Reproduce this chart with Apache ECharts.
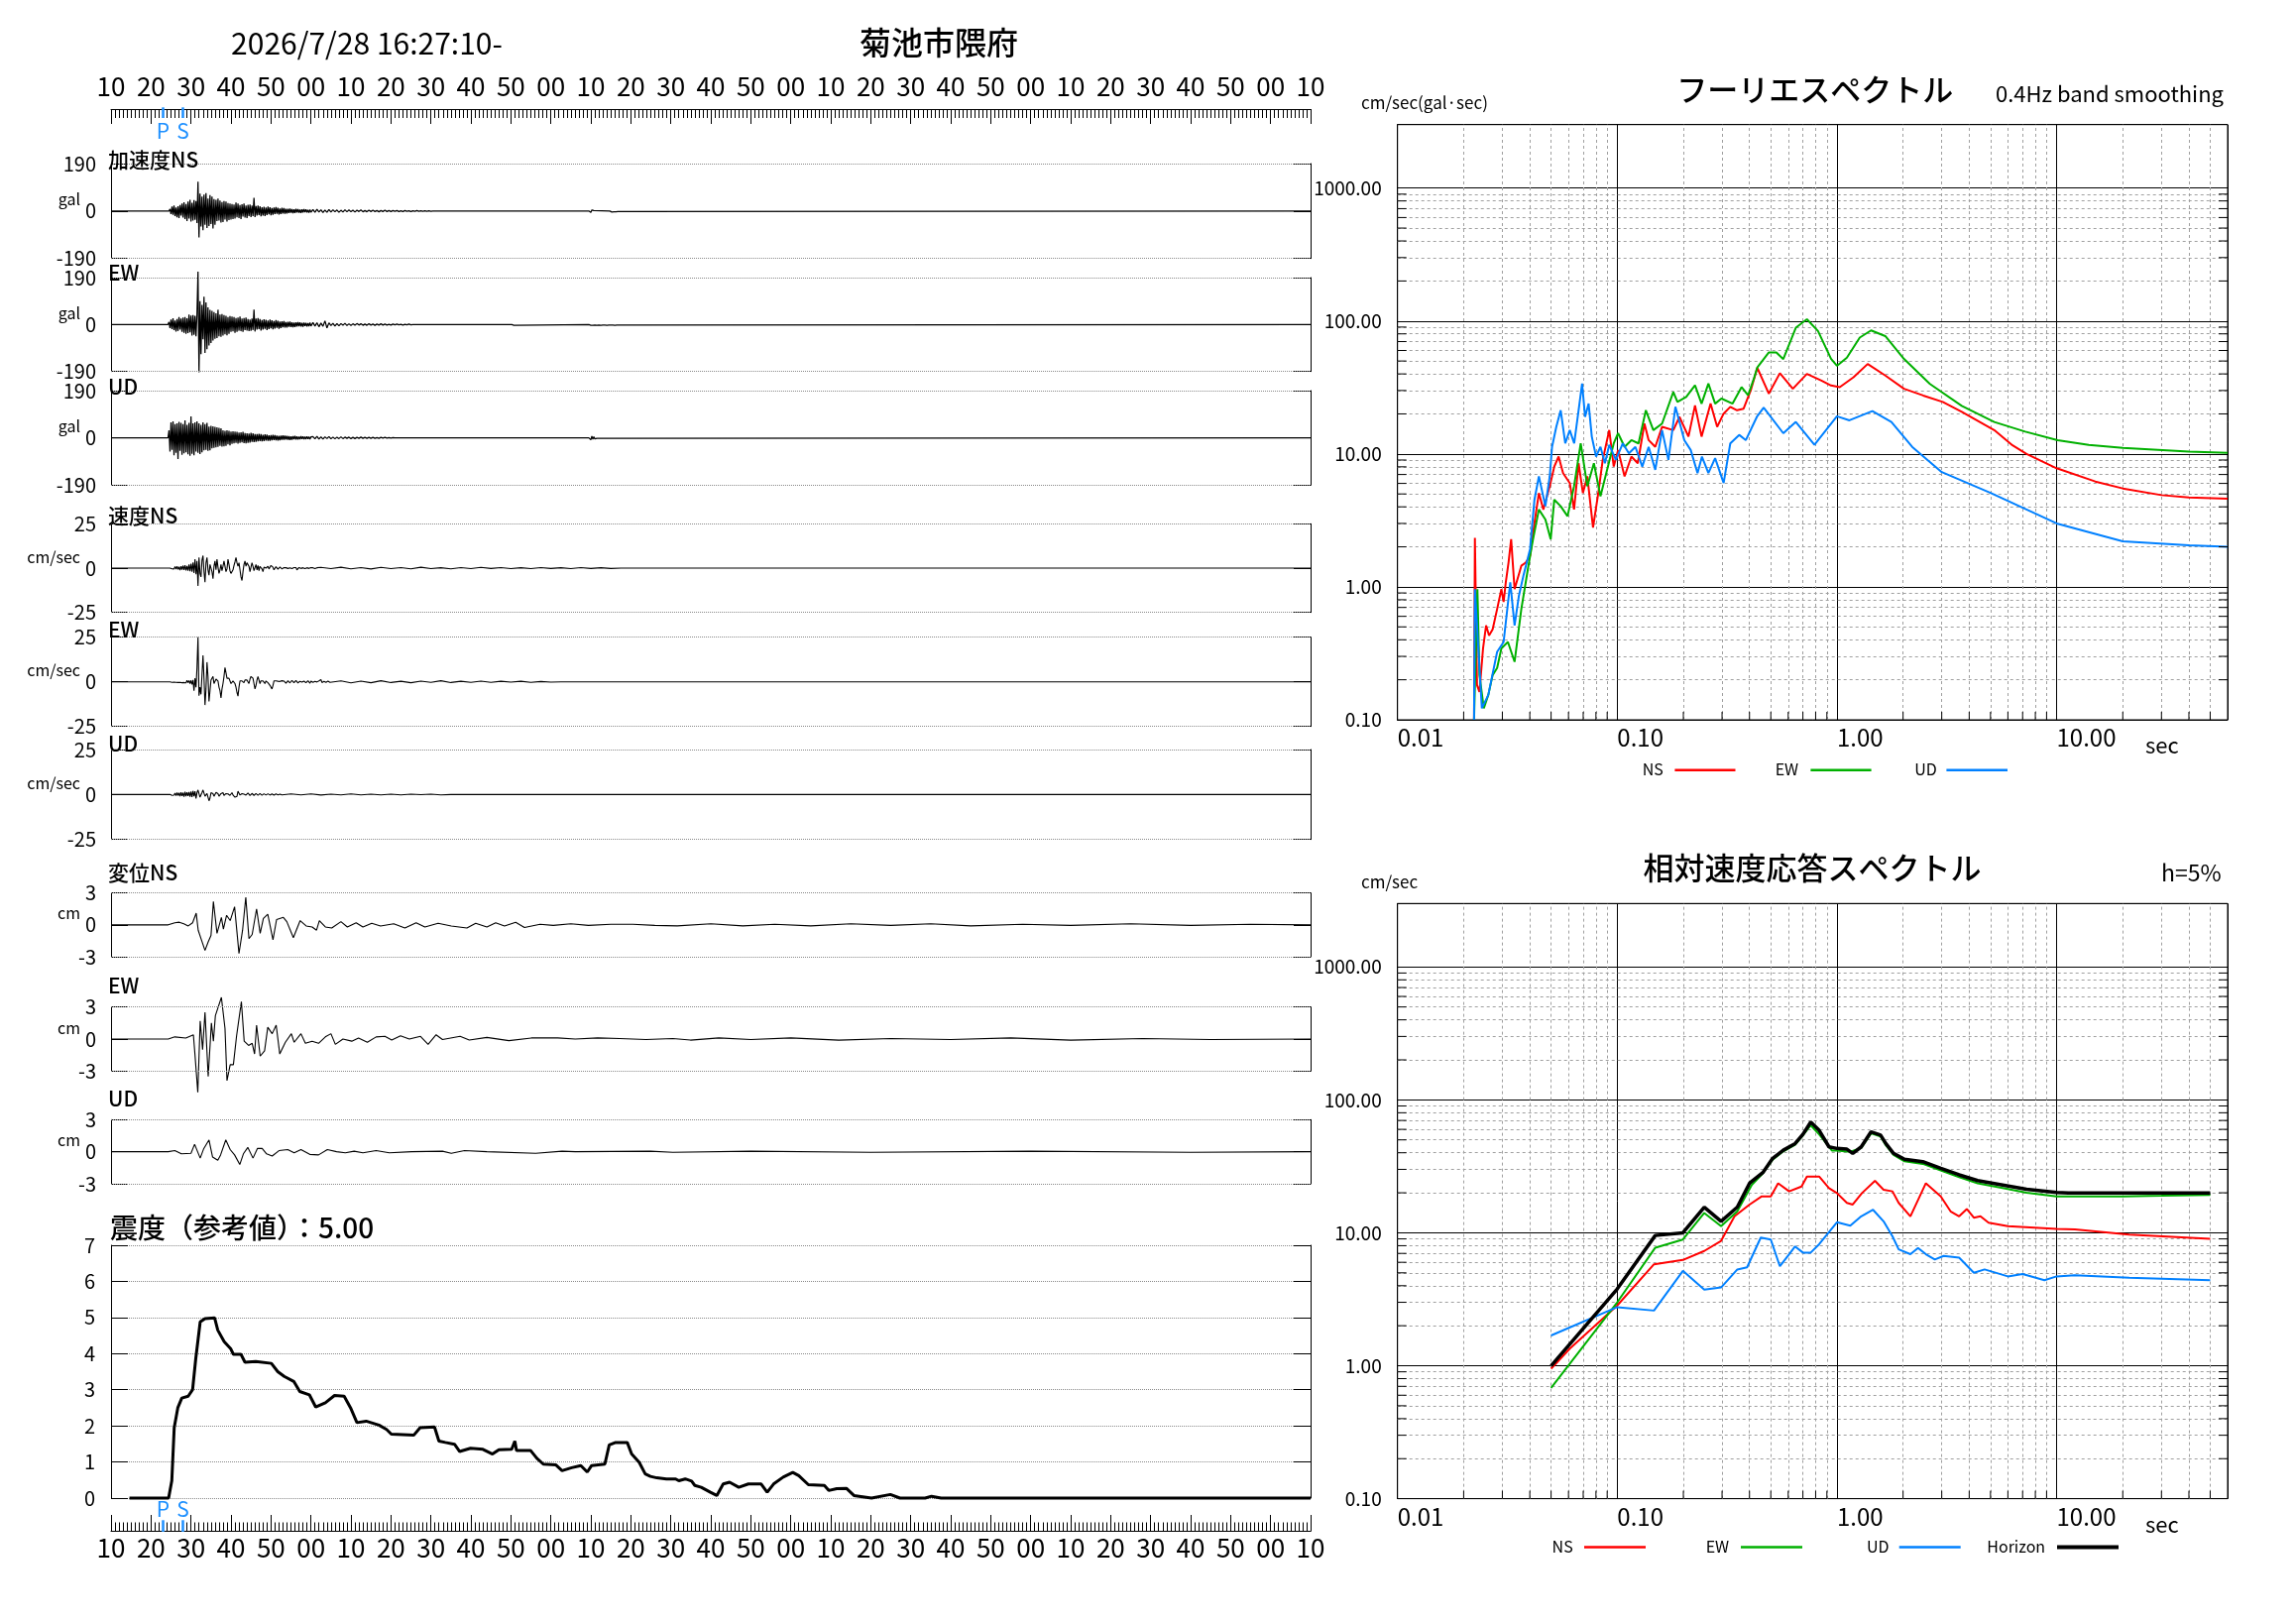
<!DOCTYPE html>
<html lang="ja">
<head>
<meta charset="utf-8">
<title>菊池市隈府</title>
<script src="https://cdn.jsdelivr.net/npm/echarts@6.0.0/dist/echarts.min.js"></script>
<style>
html,body{margin:0;padding:0;background:#ffffff;}
#chart{width:2316px;height:1637px;}
</style>
</head>
<body>
<div id="chart"></div>
<script>
// ======================= DATA =======================
// time axis: seconds after 16:27:10, 0..300
const timeTickLabels = ['10','20','30','40','50','00','10','20','30','40','50','00','10','20','30','40','50','00','10','20','30','40','50','00','10','20','30','40','50','00','10'];
const pTime = 13;
const sTime = 18;

// acceleration (gal) : segments [t0, dt, values]
const accNS_a = [8,-12,18,-15,22,-20,14,-25,19,-28,24,-18,30,
 -26,35,-32,28,-40,38,-30,45,-42,33,-38,44,-35,40,-48,
 117,-106,
 70,-62,58,-77,66,-55,72,-68,50,-60,64,-52,58,-70,48,-55,
 45,-40,50,-38,42,-46,36,-44,40,-34,38,-42,32,-36,30,-34,
 28,-32,26,-30,34,-25,30,-28,24,-32,27,-22,30,-26,22,-28,25,-20,26,-24,22,-20,53,-24,
 20,-18,22,-16,19,-21,15,-18,17,-20,14,-16,18,-13,15,-17,12,-15,14,-12,16,-11,13,-14,10,-12,13,-10,12,-11,9,-10,
 9,-8,10,-7,8,-9,7,-8,9,-6,8,-7,6,-8,7,-6,8,-5,7,-6,5,-7,6,-5];
const accNS_b = [6,-5,7,-4,5,-6,4,-5,6,-4,5,-3,4,-5,3,-4,5,-3,4,-3,3,-4,3,-2,4,-3,2,-3,3,-2,3,-2,2,-3,2,-2,3,-2,2,-2,2,-1,2,-2,1,-2,2,-1,1,-2,1,-1,2,-1,1,-1,1,-1,1,-1];
const accNS_c = [5,-6,4,-3,2];
const accNS_d = [3,-4,3,-3,4,-3,2,-2];

const accEW_a = [10,-14,20,-18,25,-22,16,-28,22,-26,30,-20,24,-30,
 28,-34,30,-38,25,-35,40,-32,36,-45,38,-42,35,-48,44,
 214,-193,
 95,-120,80,-60,113,-115,90,-100,70,-85,60,-75,55,-65,50,-58,
 45,-55,60,-48,40,-50,42,-45,38,-40,35,-44,30,-38,34,-30,
 32,-28,30,-34,26,-30,28,-25,32,-27,24,-30,26,-22,28,-24,22,-26,20,-25,24,-22,60,-28,
 24,-20,26,-18,22,-24,18,-20,21,-17,19,-22,16,-18,20,-15,17,-19,14,-16,18,-13,15,-17,12,-14,13,-11,14,-12,10,-12,
 11,-9,12,-10,9,-11,8,-10,9,-8,10,-7,9,-8,7,-9,8,-6,7,-8,6,-7,8,-6];
const accEW_b = [8,-6,7,-9,6,-7,15,-14,7,-4,5,-6,4,-5,4,-3,5,-4,3,-4,3,-3,4,-2,3,-3,2,-3,3,-2,2,-3,2,-2,3,-2,2,-2,1,-2,2,-1,2,-1,1,-2,1,-1,2,-1];
const accEW_c = [3,-3];
const accEW_d = [3,-3,2,-3,3,-2,2,-3,3,-2,3,-3,2,-2,3,-2,2,-3,2,-2,3,-2,2,-2,2,-3,2,-2,3,-2];

const accUD_a = [30,-55,62,-48,66,-70,55,-60,58,-85,64,-52,60,-68,
 55,-62,70,-58,52,-66,60,-72,86,-64,58,-70,62,-55,66,
 -60,58,-65,52,-58,62,-50,55,-48,60,-52,45,-50,48,-42,46,-40,44,
 -38,42,-36,40,-32,38,-35,30,-34,28,-32,30,-26,28,-30,25,
 -24,26,-22,25,-20,24,-23,21,-20,22,-18,24,-21,19,-22,18,-20,17,-19,20,-16,18,-17,15,
 -16,15,-14,16,-13,15,-14,12,-13,14,-11,13,-12,10,-12,11,-10,12,-9,11,-10,9,-11,8,-10,9,-8,10,-8,9,-7,8,
 -8,7,-9,6,-8,7,-6,8,-7,6,-7,5,-6,7,-5,6,-6,5,-5,6,-4,5,-5,4];
const accUD_b = [5,-4,6,-5,4,-5,4,-3,5,-4,3,-4,3,-3,4,-3,3,-2,3,-3,2,-3,2,-2,3,-2,2,-2,2,-2,2,-2,1,-2,2,-1,2,-1,1,-1,1];
const accUD_c = [4,-8,7,-6,5,-4,3,-2];

// velocity (cm/sec)
const velNS_a = [0.3,-0.4,0.6,-0.5,0.8,-0.6,1.0,-0.8,0.7,-1.2,1.0,-0.9,1.4,-1.1,1.6,-1.3,1.2,-1.5,2.0,-1.8,
 2.5,-2.0,3.2,-2.8,5.0,-3.5,4.0,-10.0,
 6.0,-3.0,-5.0,4.5,7.0,-2.0,-8.0,3.0,6.0,-1.0,-4.0,2.0,
 2.5,-2.0,-6.0,1.0,4.0,-1.0,5.0,0.5,-3.0,-1.0,2.0,-1.5,
 1.0,4.0,1.0,-2.0,-0.5,5.0,2.0,-1.5,-3.0,-4.0,-1.0,1.5,
 3.5,6.0,3.0,1.0,3.0,-1.0,-5.0,-7.0,-2.0,2.0,4.0,1.0,
 3.0,4.0,1.0,-2.0,0.5,3.0,1.0,-1.5,-0.5,2.0,-1.0,1.5,
 -1.5,1.0,2.0,-0.5,-2.0,0.5,1.5,0.0,-1.0,1.0,-0.5,0.5,
 1.5,2.0,0.5,-1.0,-0.5,0.8,0.2,-0.6,0.4,0.6,-0.3,-0.5,
 0.5,0.3,-0.4,0.2,0.6,-0.2,-0.5,0.1,0.4,-0.3,0.0,0.3,
 1.0,0.3,-1.0,-0.4,0.3,0.5,-0.2,-0.3,0.2,0.4,-0.3,-0.5,
 0.2,0.4,-0.2,-0.5,0.3,0.9,0.2,-0.5,-0.3,0.3,0.2,-0.2];
const velNS_tail = [0.4,-0.3,0.5,-0.4,0.3,-0.5,0.4,-0.3,0.3,-0.4,0.5,-0.3,0.2,-0.4,0.3,-0.3,0.4,-0.2,0.3,-0.3,0.2,-0.3,0.3,-0.2,0.2,-0.3,0.3,-0.2,0.2,-0.2];

const velEW_a = [0.2,-0.3,0.3,-0.2,0.4,-0.3,0.3,-0.4,0.5,-0.3,0.4,-0.5,0.6,-0.4,0.5,-0.6,0.8,-0.5,0.7,-1.0,
 0.8,-1.5,1.0,-5.0,2.0,-3.0,8.0,25.0,
 -7.8,-3.0,-7.0,4.0,14.8,2.0,-13.0,-4.0,11.0,3.0,-11.0,-5.0,
 1.0,2.0,3.0,-1.0,-2.0,1.5,2.5,0.5,-3.0,-5.0,-9.0,-4.0,
 -1.0,3.0,8.0,5.0,2.0,1.0,2.0,1.0,-1.0,-0.5,0.5,0.5,
 -1.0,-3.0,-6.0,-8.0,-3.0,0.5,1.0,0.5,0.0,-0.5,1.0,0.5,
 1.0,0.0,-1.0,1.5,3.0,4.0,2.0,-1.0,-4.0,-2.0,1.0,3.0,
 1.0,-1.0,0.5,1.5,0.5,-0.5,-1.0,0.5,1.0,-0.5,-1.5,-2.0,
 -3.0,-4.0,-2.0,0.5,1.0,0.5,-0.5,0.3,1.0,0.2,-0.5,0.6,
 1.0,0.4,-0.5,-0.8,0.3,0.6,-0.2,-0.6,0.5,0.8,-0.3,-0.5,
 0.4,0.7,-0.4,-0.6,0.5,0.3,-0.6,-0.2,0.6,0.4,-0.3,-0.5,
 0.3,0.6,-0.2,-0.8,0.4,0.9,-0.3,-0.6,0.2,0.5,-0.1,-0.4,
 0.5,0.8,1.2,-0.4,-1.2,0.3,0.6,-0.3,-0.4,0.4,0.2,-0.3];
const velEW_tail = [0.5,-0.6,0.4,-0.5,0.6,-0.4,0.3,-0.5,0.4,-0.3,0.6,-0.4,0.3,-0.3,0.4,-0.3,0.3,-0.2,0.3,-0.3,0.2,-0.2];

const velUD_a = [0.3,-0.5,0.6,-0.4,0.8,-0.7,1.0,-0.6,0.9,-1.0,1.2,-0.8,1.0,-1.3,1.5,-1.0,1.2,-0.8,1.4,-1.2,
 1.6,-1.4,2.0,-1.0,1.8,-2.2,1.0,2.5,
 3.3,-1.5,-2.5,1.0,2.5,1.5,-1.0,-2.0,0.5,1.5,-3.5,-2.0,
 1.0,2.0,0.5,-1.0,-1.5,1.2,2.0,0.5,-1.0,-1.8,0.5,1.5,
 1.0,-0.5,-1.2,0.5,1.0,0.3,-0.8,-0.5,0.6,1.0,-0.3,-1.0,
 -1.5,-2.6,-1.0,1.8,1.0,-0.3,-0.8,0.5,1.0,0.2,-0.6,-0.3,
 0.5,0.8,-0.2,-0.6,0.3,0.6,-0.4,-0.5,0.3,0.5,-0.2,-0.4,
 0.3,0.5,-0.3,-0.4,0.2,0.4,-0.3,-0.3,0.2,0.4,-0.2,-0.3,
 0.2,0.3,-0.2,-0.3,0.2,0.3,-0.2,-0.2,0.1,0.2,-0.1,-0.2];
const velUD_tail = [0.3,-0.2,0.3,-0.3,0.2,-0.2,0.3,-0.2,0.2,-0.2,0.2,-0.2,0.2,-0.1,0.2,-0.2];

// displacement (cm) : [t, value]
const dispNS = [[14.3,0],[15.95,0.2],[17.06,0.25],[18.2,0.1],[19.3,-0.1],[20.4,0.2],[21.3,1.1],[21.8,-0.5],[22.6,-1.4],[23.5,-2.4],[24.3,-1.6],[25.0,-1.0],[25.6,2.2],[26.5,-0.8],[27.6,0.7],[28.1,-0.4],[28.9,0.9],[29.8,0.4],[30.9,1.7],[32.0,-2.7],[32.9,-0.5],[33.7,2.6],[34.5,-1.3],[35.3,-0.9],[36.4,1.5],[37.3,-0.8],[38.1,0.6],[39.2,1.0],[40.5,-1.4],[41.4,0.5],[43.1,0.7],[43.96,0.3],[45.6,-1.2],[47.3,0.4],[48.8,-0.1],[50.3,-0.2],[51.4,-0.5],[52.1,0.4],[53.6,-0.2],[55.2,-0.3],[57.5,0.3],[59.1,-0.2],[61.3,0.2],[63.0,-0.2],[65.2,0.15],[67.4,-0.1],[70.7,0.1],[73.5,-0.3],[76.3,0.2],[78.5,-0.2],[81.8,0.15],[85.1,-0.1],[89.0,-0.3],[91.2,0.15],[94.0,-0.2],[96.2,0.2],[98.4,-0.1],[101.2,0.25],[103.4,-0.25],[107.3,0.05],[110.6,-0.05],[115.0,0.1],[119.4,-0.05],[125.0,0.05],[130.5,0.05],[136.0,-0.05],[141.6,-0.1],[150,0.1],[158,-0.1],[166,0.05],[175,-0.1],[185,0.1],[195,-0.05],[205,0.1],[215,-0.1],[228,0.05],[240,-0.05],[255,0.1],[270,-0.05],[285,0.05]];
const dispEW = [[14.3,0],[15.95,0.2],[18.7,0.1],[20.6,0.4],[21.0,-1.5],[21.7,-5.0],[22.3,1.7],[22.9,-1.0],[23.5,2.5],[24.3,-3.5],[25.1,1.5],[25.6,-0.2],[26.1,2.2],[27.6,3.9],[28.5,1.0],[29.0,-3.9],[29.8,-2.4],[30.6,-2.4],[31.4,0.3],[32.6,3.5],[33.3,-0.2],[34.4,-0.6],[35.3,-0.4],[35.9,-1.4],[36.4,1.3],[37.3,-1.6],[38.4,-1.1],[39.2,1.1],[40.3,0.5],[41.3,1.3],[42.2,-1.4],[43.6,-0.3],[45.1,0.5],[45.8,-0.3],[47.5,0.5],[48.6,-0.4],[50.3,-0.2],[51.9,-0.4],[53.6,0.2],[55.0,0.5],[56.1,-0.5],[58.0,0],[60.2,-0.2],[61.9,0.1],[64.1,-0.3],[66.3,0.2],[68.5,0.25],[70.2,-0.1],[72.4,0.3],[74.6,0],[77.4,0.25],[79.3,-0.5],[81.3,0.4],[82.9,-0.05],[87.3,0.25],[89.6,-0.1],[94.0,0.15],[99.5,-0.15],[105.1,0.1],[111.7,0.1],[116.1,0],[121.7,0.1],[127.2,0.05],[133.8,-0.05],[140.5,0.05],[144.9,-0.1],[152,0.1],[160,-0.05],[170,0.1],[182,-0.1],[195,0.05],[210,-0.05],[225,0.1],[240,-0.1],[258,0.05],[275,-0.05]];
const dispUD = [[14.3,0],[15.95,0.1],[17.6,-0.2],[20.0,-0.15],[20.9,0.7],[22.3,-0.6],[23.2,0.3],[24.5,1.1],[25.4,-0.5],[26.7,-0.8],[27.4,-0.3],[28.7,1.1],[29.8,0.2],[30.9,-0.3],[32.2,-1.2],[33.1,-0.2],[34.2,0.4],[35.5,-0.6],[36.6,0.3],[37.8,0.3],[38.9,-0.2],[40.3,-0.4],[42.0,0.1],[44.2,0.2],[45.8,-0.1],[47.5,0.2],[49.7,-0.25],[51.9,-0.3],[54.1,0.2],[56.4,0],[58.6,-0.1],[60.8,0.05],[63.0,-0.1],[66.3,0.1],[69.6,-0.1],[75.2,0],[82.9,0.05],[85.1,-0.15],[88.4,0.1],[94.0,0],[106.2,-0.15],[112.8,0.05],[116.1,0],[134.9,0.05],[140.5,-0.05],[160,0.05],[190,-0.05],[230,0.05],[270,-0.05]];

// seismic intensity (reference value): [t, intensity]
const intensity = [[4.6,0],[14.4,0],[15.2,0.48],[15.8,1.95],[16.7,2.5],[17.7,2.77],[19.3,2.82],[20.4,3.0],[21.2,3.87],[22.3,4.88],[23.5,4.97],[25.9,4.99],[26.7,4.65],[28.3,4.33],[29.9,4.14],[30.6,3.98],[32.5,3.98],[33.5,3.76],[36.2,3.78],[40.1,3.73],[41.7,3.5],[43.3,3.37],[45.7,3.23],[47.2,2.95],[49.6,2.86],[51.2,2.52],[53.6,2.64],[55.9,2.84],[58.3,2.82],[59.9,2.5],[61.5,2.09],[63.8,2.13],[67.0,2.02],[68.9,1.9],[70.1,1.77],[75.7,1.74],[77.3,1.95],[80.9,1.97],[82.0,1.58],[83.6,1.54],[85.9,1.49],[87.2,1.29],[89.9,1.38],[93.0,1.35],[95.4,1.22],[97.0,1.34],[100.2,1.35],[101.0,1.58],[101.4,1.32],[104.9,1.32],[106.5,1.1],[108.1,0.94],[111.2,0.92],[112.8,0.76],[115.2,0.84],[117.5,0.9],[119.1,0.72],[120.2,0.9],[123.5,0.94],[124.6,1.47],[126.2,1.54],[129.1,1.54],[130.2,1.22],[132.1,0.99],[133.6,0.67],[134.9,0.6],[136.5,0.56],[138.9,0.53],[141.2,0.53],[142.0,0.48],[143.6,0.53],[145.2,0.47],[146.0,0.35],[147.6,0.3],[149.9,0.16],[151.5,0.07],[153.1,0.39],[154.7,0.44],[157.0,0.3],[159.4,0.39],[162.6,0.39],[164.1,0.16],[165.7,0.39],[168.1,0.58],[170.5,0.71],[172.0,0.62],[174.4,0.37],[178.4,0.35],[179.5,0.21],[181.5,0.26],[183.9,0.27],[185.8,0.07],[190.2,0],[194.9,0.1],[197.3,0],[203.6,0],[205.2,0.05],[207.6,0],[300,0]];

// Fourier spectrum : [period sec, cm/sec]
const fourierNS = [[0.0223,0.1],[0.0225,2.34],[0.0230,0.183],[0.0236,0.162],[0.0245,0.343],[0.0253,0.513],[0.0261,0.431],[0.0271,0.48],[0.0284,0.68],[0.0297,0.96],[0.0304,0.77],[0.0311,1.08],[0.032,1.52],[0.0329,2.28],[0.0341,0.96],[0.0366,1.44],[0.0383,1.52],[0.0401,1.71],[0.0420,3.03],[0.0440,5.08],[0.0461,3.82],[0.0493,5.71],[0.0517,8.03],[0.0541,9.55],[0.0567,7.17],[0.0608,6.04],[0.0636,3.82],[0.0667,8.51],[0.0698,5.08],[0.0731,6.78],[0.0776,2.79],[0.0820,5.08],[0.0859,9.02],[0.0920,15.1],[0.0964,8.03],[0.1009,10.7],[0.108,6.78],[0.116,9.55],[0.124,8.51],[0.133,16.9],[0.139,12.7],[0.149,11.3],[0.160,16.0],[0.180,15.1],[0.192,19.0],[0.211,13.5],[0.226,23.2],[0.242,13.5],[0.266,23.9],[0.285,16.0],[0.305,20.1],[0.327,22.6],[0.351,21.3],[0.376,21.9],[0.405,30],[0.434,44.4],[0.49,28.4],[0.55,40.5],[0.63,30.9],[0.73,40],[0.85,35.6],[0.94,32.7],[1.03,31.8],[1.19,37.7],[1.38,47.5],[1.66,38.9],[2.02,30.9],[2.47,27.5],[3.03,24.6],[3.7,20.7],[5.2,15.1],[6.3,11.6],[7.3,10.0],[10,7.8],[15,6.2],[20,5.5],[30,4.9],[40,4.7],[60,4.6]];
const fourierEW = [[0.0223,0.1],[0.0231,0.96],[0.0236,0.217],[0.0247,0.122],[0.0259,0.154],[0.0271,0.217],[0.0284,0.245],[0.0297,0.344],[0.0318,0.385],[0.0341,0.273],[0.0366,0.68],[0.0392,1.36],[0.0411,2.15],[0.0440,3.82],[0.0471,3.21],[0.0498,2.28],[0.0517,4.53],[0.0553,4.04],[0.0594,3.40],[0.0636,5.71],[0.0682,12.0],[0.0731,5.71],[0.0783,8.51],[0.0839,4.80],[0.0899,7.59],[0.0964,12.0],[0.1009,14.3],[0.108,11.3],[0.116,12.7],[0.125,12.0],[0.135,21.3],[0.146,15.1],[0.160,16.9],[0.180,29.2],[0.188,24.6],[0.206,26.8],[0.226,32.8],[0.242,23.9],[0.260,33.8],[0.279,23.9],[0.298,26.1],[0.335,23.9],[0.368,31.8],[0.394,27.6],[0.421,37.8],[0.434,44.8],[0.49,58],[0.53,58],[0.57,51.7],[0.65,89],[0.73,103],[0.82,84],[0.94,52],[1.0,46],[1.11,53],[1.27,75],[1.43,85],[1.66,77],[2.02,51.8],[2.65,33.6],[3.7,23],[5.2,17.4],[7.2,14.7],[10.1,12.7],[14,11.7],[20,11.1],[40,10.4],[60,10.2]];
const fourierUD = [[0.0223,0.1],[0.0225,0.96],[0.0242,0.122],[0.0259,0.154],[0.0284,0.324],[0.0304,0.385],[0.0326,1.08],[0.0341,0.513],[0.0357,0.86],[0.0374,1.21],[0.0401,1.92],[0.0420,4.53],[0.0440,6.78],[0.0471,4.04],[0.0493,6.78],[0.0505,11.3],[0.0528,16.0],[0.0553,21.3],[0.0580,12.0],[0.0608,15.1],[0.0637,12.0],[0.0667,21.3],[0.0692,33.8],[0.0714,19.0],[0.0741,23.9],[0.0766,13.5],[0.0801,9.55],[0.0839,11.3],[0.0879,8.51],[0.0920,11.7],[0.0986,9.02],[0.106,12.0],[0.113,10.1],[0.121,11.3],[0.130,8.03],[0.139,11.3],[0.149,7.59],[0.160,15.1],[0.171,9.02],[0.184,22.6],[0.202,12.7],[0.216,10.7],[0.232,7.17],[0.243,9.55],[0.260,7.17],[0.279,9.28],[0.305,6.04],[0.327,12.0],[0.359,13.9],[0.385,12.7],[0.432,19.0],[0.464,22.3],[0.57,14.3],[0.65,17.4],[0.79,11.7],[1.0,19.2],[1.14,17.9],[1.45,21],[1.77,17.4],[2.2,11.3],[3.0,7.3],[5.0,5.1],[10,3.0],[20,2.2],[40,2.05],[60,2.0]];

// relative velocity response spectrum (h=5%) : [period sec, cm/sec]
const respNS = [[0.05,0.95],[0.061,1.35],[0.1,2.84],[0.147,5.8],[0.199,6.25],[0.249,7.3],[0.297,8.7],[0.342,13.3],[0.40,16.3],[0.455,18.8],[0.50,18.8],[0.54,23.6],[0.606,20.5],[0.69,22.3],[0.73,26.5],[0.83,26.5],[0.92,21.7],[1.0,19.9],[1.11,16.8],[1.18,16.3],[1.3,19.9],[1.49,24.6],[1.63,21.1],[1.79,20.5],[1.91,16.8],[2.16,13.3],[2.54,23.6],[2.97,18.8],[3.29,14.5],[3.6,13.3],[3.9,15.1],[4.2,13.0],[4.5,13.3],[4.9,11.9],[6.0,11.2],[10,10.7],[12.1,10.6],[21.4,9.7],[50,9.0]];
const respEW = [[0.05,0.68],[0.1,3.0],[0.149,7.73],[0.199,8.9],[0.249,14.1],[0.297,11.2],[0.352,14.5],[0.41,23],[0.46,28],[0.51,35.5],[0.57,41],[0.645,46],[0.70,54],[0.76,64.4],[0.83,55],[0.95,41.5],[1.0,41.5],[1.15,40.7],[1.29,43.5],[1.43,56],[1.58,53],[1.67,45.5],[1.81,38.5],[2.03,34.5],[2.46,33],[2.97,29.5],[3.6,26.2],[4.37,23.6],[5.6,21.8],[7.3,20.0],[10,18.8],[20,18.8],[30,19.0],[50,19.3]];
const respUD = [[0.05,1.69],[0.1,2.76],[0.147,2.6],[0.199,5.17],[0.249,3.73],[0.297,3.88],[0.352,5.3],[0.39,5.5],[0.45,9.2],[0.50,8.9],[0.55,5.6],[0.606,6.9],[0.645,7.9],[0.70,7.1],[0.76,7.1],[0.83,8.2],[1.0,12.0],[1.15,11.3],[1.29,13.3],[1.46,14.9],[1.63,12.2],[1.79,9.4],[1.91,7.5],[2.16,6.9],[2.34,7.7],[2.54,6.9],[2.79,6.3],[3.06,6.7],[3.6,6.5],[4.2,5.0],[4.7,5.3],[6.0,4.7],[7.0,4.9],[8.8,4.4],[10,4.7],[12.1,4.8],[21.4,4.6],[50,4.4]];
const respH = [[0.05,1.0],[0.1,3.78],[0.149,9.55],[0.199,10],[0.249,15.6],[0.297,12.2],[0.352,15.6],[0.40,23.6],[0.46,28.4],[0.51,36.3],[0.57,41.8],[0.645,46.9],[0.70,55],[0.76,68],[0.83,59],[0.92,44.3],[1.0,43.1],[1.11,42.6],[1.18,39.6],[1.29,44.3],[1.43,57.5],[1.58,54.3],[1.67,46.9],[1.81,39.6],[2.03,35.7],[2.46,34.3],[2.97,30.6],[3.6,27.3],[4.37,24.7],[5.6,23.0],[7.3,21.3],[10,20.1],[11.3,19.9],[20,19.9],[30,19.9],[50,19.9]];

// spectrum axis labels / grid values
const specXTickLabels = ['0.01','0.10','1.00','10.00'];   // 10^-2 .. 10^1
const specYTickLabels = ['0.10','1.00','10.00','100.00','1000.00']; // 10^-1 .. 10^3
const specMinorX = [0.02,0.03,0.04,0.05,0.06,0.07,0.08,0.09,0.2,0.3,0.4,0.5,0.6,0.7,0.8,0.9,2,3,4,5,6,7,8,9,20,30,40,50];
const specMinorY = [0.2,0.3,0.4,0.5,0.6,0.7,0.8,0.9,2,3,4,5,6,7,8,9,20,30,40,50,60,70,80,90,200,300,400,500,600,700,800,900];

// ======================= BUILD =======================
const FONT = "'Noto Sans CJK JP','Noto Sans',sans-serif";
const BLUE = '#1E90FF';
const RED = '#FF0000', GREEN = '#00B000', UDBLUE = '#0080FF';

function buildTrace(segs){
  const pts = [[0,0]];
  let prevDt = 0.25;
  segs.forEach(function(s){
    const t0 = s[0], dt = s[1], vals = s[2];
    const last = pts[pts.length-1][0];
    if (t0 - dt > last + 1e-6) {
      if (pts.length > 1) pts.push([+(last + prevDt).toFixed(3), 0]);
      pts.push([+(t0 - dt).toFixed(3), 0]);
    }
    vals.forEach(function(v,i){ pts.push([+(t0 + i*dt).toFixed(3), v]); });
    prevDt = dt;
  });
  const last = pts[pts.length-1][0];
  pts.push([+(last + prevDt).toFixed(3), 0]);
  pts.push([300,0]);
  return pts;
}
function pairTrace(p){ return [[0,0]].concat(p).concat([[300,0]]); }

const traces = {
  accNS: buildTrace([[14.75,0.25,accNS_a],[50.5,0.5,accNS_b],[119.75,0.25,accNS_c],[125,0.25,accNS_d]]),
  accEW: buildTrace([[14.5,0.25,accEW_a],[50.5,0.5,accEW_b],[100.5,0.25,accEW_c],[119.75,0.25,accEW_d]]),
  accUD: buildTrace([[14.5,0.25,accUD_a],[50.5,0.5,accUD_b],[119.75,0.25,accUD_c]]),
  velNS: buildTrace([[15,0.25,velNS_a],[52.5,2.5,velNS_tail]]),
  velEW: buildTrace([[15,0.25,velEW_a],[57.5,2.5,velEW_tail]]),
  velUD: buildTrace([[15,0.25,velUD_a],[45,2.5,velUD_tail]]),
  dispNS: pairTrace(dispNS),
  dispEW: pairTrace(dispEW),
  dispUD: pairTrace(dispUD)
};

// layout (pixels)
const PL = 112, PW = 1210;
const panels = [
  {key:'accNS', top:165,   bot:260.7, amp:190, lw:1.25, name:'加速度NS', nameY:160.7, unit:'gal'},
  {key:'accEW', top:280,   bot:374.7, amp:190, lw:1.25, name:'EW',      nameY:275,   unit:'gal'},
  {key:'accUD', top:394,   bot:489.3, amp:190, lw:1.25, name:'UD',      nameY:390,   unit:'gal'},
  {key:'velNS', top:528.3, bot:617.7, amp:25,  lw:1.1, name:'速度NS',  nameY:520,   unit:'cm/sec'},
  {key:'velEW', top:642.7, bot:732.7, amp:25,  lw:1.1, name:'EW',      nameY:635,   unit:'cm/sec'},
  {key:'velUD', top:756,   bot:846.7, amp:25,  lw:1.1, name:'UD',      nameY:750,   unit:'cm/sec'},
  {key:'dispNS',top:900.7, bot:965,   amp:3,   lw:1.1, name:'変位NS',  nameY:880,   unit:'cm'},
  {key:'dispEW',top:1015.7,bot:1080.3,amp:3,   lw:1.1, name:'EW',      nameY:994,   unit:'cm'},
  {key:'dispUD',top:1129.3,bot:1194,  amp:3,   lw:1.1, name:'UD',      nameY:1108.3,unit:'cm'}
];

const grid = [], xAxis = [], yAxis = [], series = [], graphic = [];
function txt(text, x, y, size, align, color, weight){
  graphic.push({type:'text', x:x, y:y, silent:true, z:10,
    style:{text:text, font: (weight || 'normal') + ' ' + size + 'px ' + FONT, fill: color || '#000',
      align: align || 'left', verticalAlign:'middle', textAlign: align || 'left', textVerticalAlign:'middle'}});
}
function gline(x1,y1,x2,y2,color,w){
  graphic.push({type:'line', silent:true, z:10, shape:{x1:x1,y1:y1,x2:x2,y2:y2}, style:{stroke:color, lineWidth:w}});
}
const blackLine = {color:'#000', width:1};

// --- rulers and P/S marks ---
function addRuler(top, height, pos, margin){
  const gi = grid.length;
  grid.push({left:PL, width:PW, top:top, height:height});
  xAxis.push({gridIndex:gi, type:'value', min:0, max:300, interval:10, position:pos,
    axisLine:{show:true, onZero:false, lineStyle:blackLine},
    axisTick:{show:true, inside:true, length:height, lineStyle:blackLine},
    minorTick:{show:true, splitNumber:10, length:9, lineStyle:blackLine},
    splitLine:{show:false},
    axisLabel:{show:true, margin:margin, fontSize:26, fontFamily:FONT, color:'#000',
      formatter:function(v){ return timeTickLabels[Math.round(v/10)]; }}});
  yAxis.push({gridIndex:gi, type:'value', min:0, max:1, show:false});
}
function addPS(top, height, labelPos, dist){
  const gi = grid.length;
  grid.push({left:PL, width:PW, top:top, height:height});
  xAxis.push({gridIndex:gi, type:'value', min:0, max:300, show:false});
  yAxis.push({gridIndex:gi, type:'value', min:0, max:1, show:false});
  series.push({type:'line', xAxisIndex:xAxis.length-1, yAxisIndex:yAxis.length-1, data:[[0,0.5]],
    symbol:'none', lineStyle:{width:0}, silent:true,
    markLine:{silent:true, symbol:['none','none'], animation:false,
      lineStyle:{color:BLUE, width:2.5, type:'solid'},
      label:{show:true, position:labelPos, distance:dist, color:BLUE, fontSize:21, fontFamily:FONT},
      data:[{xAxis:pTime, label:{formatter:'P'}},{xAxis:sTime, label:{formatter:'S'}}]}});
}
addRuler(110, 15, 'top', 10);
addPS(108.3, 10.7, 'start', 3);

// --- waveform panels ---
panels.forEach(function(p){
  const gi = grid.length;
  grid.push({left:PL, width:PW, top:p.top, height:p.bot - p.top});
  xAxis.push({gridIndex:gi, type:'value', min:0, max:300, show:false});
  const yl = yAxis.length;
  yAxis.push({gridIndex:gi, type:'value', min:-p.amp, max:p.amp, interval:p.amp, position:'left',
    axisLine:{show:true, lineStyle:blackLine},
    axisTick:{show:true, inside:true, length:17, lineStyle:blackLine},
    splitLine:{show:false},
    axisLabel:{show:true, margin:15, fontSize:20, fontFamily:FONT, color:'#000'}});
  yAxis.push({gridIndex:gi, type:'value', min:-p.amp, max:p.amp, interval:p.amp, position:'right',
    axisLine:{show:true, lineStyle:blackLine},
    axisTick:{show:true, inside:true, length:17, lineStyle:blackLine},
    splitLine:{show:false}, axisLabel:{show:false}});
  series.push({type:'line', xAxisIndex:xAxis.length-1, yAxisIndex:yl, data:traces[p.key],
    symbol:'none', showSymbol:false, clip:false, silent:true,
    lineStyle:{color:'#000', width:p.lw},
    markLine:{silent:true, symbol:['none','none'], animation:false, label:{show:false},
      lineStyle:{color:'#8a8a8a', type:'dotted', width:1},
      data:[{yAxis:p.amp},{yAxis:-p.amp}]}});
  txt(p.name, 109, p.nameY, 21, 'left', '#000', 500);
  const zero = (p.top + p.bot)/2;
  txt(p.unit, 81, zero - 11.5, 16, 'right');
});

// --- intensity panel ---
(function(){
  const gi = grid.length;
  grid.push({left:PL, width:PW, top:1256, height:255});
  xAxis.push({gridIndex:gi, type:'value', min:0, max:300, show:false});
  const yl = yAxis.length;
  yAxis.push({gridIndex:gi, type:'value', min:0, max:7, interval:1, position:'left',
    axisLine:{show:true, lineStyle:blackLine},
    axisTick:{show:true, inside:true, length:17, lineStyle:blackLine},
    splitLine:{show:true, lineStyle:{color:'#8a8a8a', type:'dotted', width:1}},
    axisLabel:{show:true, margin:16, fontSize:20, fontFamily:FONT, color:'#000'}});
  yAxis.push({gridIndex:gi, type:'value', min:0, max:7, interval:1, position:'right',
    axisLine:{show:true, lineStyle:blackLine},
    axisTick:{show:true, inside:true, length:17, lineStyle:blackLine},
    splitLine:{show:false}, axisLabel:{show:false}});
  series.push({type:'line', xAxisIndex:xAxis.length-1, yAxisIndex:yl, data:intensity,
    symbol:'none', showSymbol:false, clip:false, silent:true, lineStyle:{color:'#000', width:3}});
  txt('震度（参考値）：5.00', 111, 1238.3, 28, 'left', '#000', 500);
})();
addRuler(1528, 16.5, 'bottom', 4);
addPS(1533.3, 11.7, 'end', 1);

// --- spectra ---
function specLabel(arr, off){
  return function(v){
    const e = Math.log10(v), r = Math.round(e);
    if (Math.abs(e - r) > 1e-6) return '';
    const s = arr[r - off];
    return s === undefined ? '' : s;
  };
}
function addSpectrum(top, list){
  const gi = grid.length;
  const left = 1409.7, width = 837.3, height = 600.3;
  grid.push({left:left, width:width, top:top, height:height, show:true, borderColor:'#000', borderWidth:1, backgroundColor:'rgba(0,0,0,0)'});
  const xi = xAxis.length, yi = yAxis.length;
  xAxis.push({gridIndex:gi, type:'log', logBase:10, min:0.01, max:60,
    axisLine:{show:true, lineStyle:blackLine}, axisTick:{show:false},
    splitLine:{show:true, lineStyle:{color:'#000', width:1}},
    axisLabel:{show:true, align:'left', margin:6, fontSize:24, fontFamily:FONT, color:'#000', formatter:specLabel(specXTickLabels,-2)}});
  yAxis.push({gridIndex:gi, type:'log', logBase:10, min:0.1, max:3000,
    axisLine:{show:true, lineStyle:blackLine}, axisTick:{show:false},
    splitLine:{show:true, lineStyle:{color:'#000', width:1}},
    axisLabel:{show:true, margin:16, fontSize:19, fontFamily:FONT, color:'#000', formatter:specLabel(specYTickLabels,-1)}});
  // minor dashed grid
  series.push({type:'line', xAxisIndex:xi, yAxisIndex:yi, data:[[1,1]], symbol:'none', lineStyle:{width:0}, silent:true, z:1,
    markLine:{silent:true, z:1, symbol:['none','none'], animation:false, label:{show:false},
      lineStyle:{color:'#a0a0a0', type:[3,3], width:1},
      data: specMinorX.map(function(v){return {xAxis:v};}).concat(specMinorY.map(function(v){return {yAxis:v};}))}});
  // minor ticks on left / right / bottom edges
  series.push({type:'custom', xAxisIndex:xi, yAxisIndex:yi, silent:true, z:4, clip:false,
    data: specMinorY.map(function(v){return [0.01, v, 0];}).concat(specMinorX.map(function(v){return [v, 0.1, 1];})),
    renderItem:function(params, api){
      const kind = api.value(2);
      const st = {stroke:'#000', lineWidth:1};
      if (kind === 0) {
        const y = api.coord([0.01, api.value(1)])[1];
        const xl = api.coord([0.01, 0.1])[0], xr = api.coord([60, 0.1])[0];
        return {type:'group', children:[
          {type:'line', shape:{x1:xl, y1:y, x2:xl+9, y2:y}, style:st},
          {type:'line', shape:{x1:xr-9, y1:y, x2:xr, y2:y}, style:st}]};
      }
      const p = api.coord([api.value(0), 0.1]);
      return {type:'line', shape:{x1:p[0], y1:p[1], x2:p[0], y2:p[1]-8}, style:st};
    }});
  list.forEach(function(s){
    series.push({type:'line', name:s.name, xAxisIndex:xi, yAxisIndex:yi, data:s.data, symbol:'none', showSymbol:false,
      clip:true, silent:true, z:3, lineStyle:{color:s.color, width:s.width}});
  });
}
addSpectrum(125.7, [
  {name:'NS', data:fourierNS, color:RED, width:2},
  {name:'EW', data:fourierEW, color:GREEN, width:2},
  {name:'UD', data:fourierUD, color:UDBLUE, width:2}]);
addSpectrum(911.3, [
  {name:'NS', data:respNS, color:RED, width:2},
  {name:'EW', data:respEW, color:GREEN, width:2},
  {name:'UD', data:respUD, color:UDBLUE, width:2},
  {name:'Horizon', data:respH, color:'#000', width:3.5}]);

// --- texts ---
txt('2026/7/28 16:27:10-', 370, 43.3, 30, 'center');
txt('菊池市隈府', 947, 43, 32, 'center', '#000', 500);
txt('フーリエスペクトル', 1830.7, 90, 31, 'center', '#000', 500);
txt('0.4Hz band smoothing', 2013, 95, 22, 'left');
txt('cm/sec(gal·sec)', 1373, 103.3, 17, 'left');
txt('sec', 2164, 752, 22, 'left');
txt('相対速度応答スペクトル', 1828, 875, 31, 'center', '#000', 500);
txt('h=5%', 2180, 880, 23, 'left');
txt('cm/sec', 1373, 890, 17, 'left');
txt('sec', 2164, 1537.6, 22, 'left');
// legends
txt('NS', 1656.8, 776, 16, 'left'); gline(1689.4, 776.7, 1750.5, 776.7, RED, 2.5);
txt('EW', 1790.7, 776, 16, 'left'); gline(1826.4, 776.7, 1887.6, 776.7, GREEN, 2.5);
txt('UD', 1931.3, 776, 16, 'left'); gline(1963.4, 776.7, 2025, 776.7, UDBLUE, 2.5);
txt('NS', 1565.6, 1559.7, 16, 'left'); gline(1598, 1560.4, 1660, 1560.4, RED, 2.5);
txt('EW', 1720.7, 1559.7, 16, 'left'); gline(1756, 1560.4, 1818, 1560.4, GREEN, 2.5);
txt('UD', 1883, 1559.7, 16, 'left'); gline(1915.7, 1560.4, 1977.7, 1560.4, UDBLUE, 2.5);
txt('Horizon', 2004.3, 1559.7, 16, 'left'); gline(2075, 1560.4, 2137, 1560.4, '#000', 4);

const chart = echarts.init(document.getElementById('chart'), null, {renderer:'canvas', width:2316, height:1637});
chart.setOption({
  animation:false,
  backgroundColor:'#ffffff',
  textStyle:{fontFamily:FONT},
  grid:grid, xAxis:xAxis, yAxis:yAxis, series:series, graphic:graphic
});
</script>
</body>
</html>
